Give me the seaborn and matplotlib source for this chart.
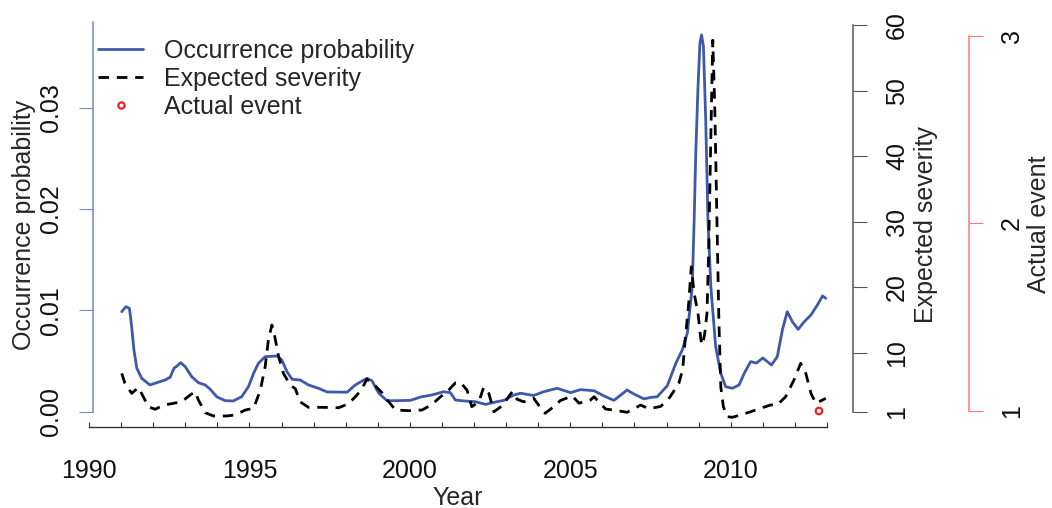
import numpy as np
import matplotlib
matplotlib.use("Agg")
import matplotlib.pyplot as plt
from matplotlib.lines import Line2D
import seaborn as sns

# ---- data ---------------------------------------------------------------
prob_year = [
    1991.02, 1991.15, 1991.26, 1991.33, 1991.40, 1991.49, 1991.64, 1991.90,
    1992.11, 1992.37, 1992.53, 1992.65, 1992.74, 1992.86, 1993.00, 1993.20,
    1993.41, 1993.62, 1993.78, 1993.98, 1994.24, 1994.50, 1994.76, 1994.97,
    1995.13, 1995.28, 1995.49, 1995.86, 1996.01, 1996.17, 1996.33, 1996.58,
    1996.84, 1997.15, 1997.42, 1998.04, 1998.30, 1998.66, 1998.82, 1999.03,
    1999.29, 1999.65, 2000.02, 2000.33, 2000.69, 2001.05, 2001.26, 2001.42,
    2001.73, 2002.04, 2002.36, 2002.67, 2002.93, 2003.24, 2003.45, 2003.86,
    2004.17, 2004.59, 2005.01, 2005.32, 2005.74, 2006.05, 2006.36, 2006.77,
    2006.98, 2007.29, 2007.50, 2007.71, 2008.02, 2008.29, 2008.49, 2008.65,
    2008.80, 2008.86, 2008.91, 2008.98, 2009.04, 2009.09, 2009.15, 2009.22,
    2009.29, 2009.38, 2009.53, 2009.69, 2009.84, 2010.05, 2010.26, 2010.42,
    2010.62, 2010.80, 2011.00, 2011.27, 2011.45, 2011.61, 2011.76, 2011.92,
    2012.10, 2012.29, 2012.50, 2012.70, 2012.86, 2012.96,
]
prob = [
    0.00987, 0.01037, 0.01020, 0.00840, 0.00610, 0.00430, 0.00330, 0.00264,
    0.00286, 0.00313, 0.00340, 0.00430, 0.00450, 0.00484, 0.00444, 0.00346,
    0.00286, 0.00264, 0.00221, 0.00148, 0.00109, 0.00106, 0.00148, 0.00247,
    0.00379, 0.00478, 0.00543, 0.00550, 0.00510, 0.00395, 0.00320, 0.00313,
    0.00264, 0.00231, 0.00195, 0.00192, 0.00264, 0.00330, 0.00305, 0.00182,
    0.00108, 0.00109, 0.00112, 0.00145, 0.00165, 0.00197, 0.00188, 0.00115,
    0.00105, 0.00099, 0.00072, 0.00096, 0.00112, 0.00165, 0.00182, 0.00160,
    0.00197, 0.00231, 0.00188, 0.00218, 0.00207, 0.00155, 0.00112, 0.00214,
    0.00175, 0.00127, 0.00140, 0.00148, 0.00255, 0.00478, 0.00610, 0.00780,
    0.01234, 0.01892, 0.02551, 0.03208, 0.03637, 0.03719, 0.03603, 0.02880,
    0.01892, 0.01234, 0.00642, 0.00379, 0.00247, 0.00231, 0.00264, 0.00379,
    0.00494, 0.00480, 0.00530, 0.00461, 0.00543, 0.00807, 0.00987, 0.00888,
    0.00813, 0.00888, 0.00955, 0.01053, 0.01142, 0.01120,
]

sev_year = [
    1991.02, 1991.12, 1991.33, 1991.54, 1991.69, 1991.85, 1992.06, 1992.32,
    1992.63, 1992.89, 1993.15, 1993.31, 1993.41, 1993.62, 1993.88, 1994.29,
    1994.55, 1994.87, 1995.13, 1995.34, 1995.49, 1995.59, 1995.70, 1995.77,
    1995.91, 1996.06, 1996.27, 1996.43, 1996.58, 1996.84, 1997.26, 1997.78,
    1998.09, 1998.35, 1998.51, 1998.66, 1998.87, 1999.13, 1999.34, 1999.55,
    1999.96, 2000.38, 2000.69, 2000.90, 2001.21, 2001.42, 2001.57, 2001.78,
    2001.93, 2002.15, 2002.30, 2002.46, 2002.62, 2002.88, 2003.19, 2003.34,
    2003.55, 2003.86, 2004.12, 2004.22, 2004.54, 2004.69, 2005.06, 2005.27,
    2005.63, 2005.74, 2006.10, 2006.41, 2006.77, 2007.19, 2007.45, 2007.82,
    2008.10, 2008.38, 2008.50, 2008.58, 2008.69, 2008.77, 2008.86, 2008.98,
    2009.07, 2009.12, 2009.19, 2009.26, 2009.31, 2009.35, 2009.40, 2009.44,
    2009.50, 2009.57, 2009.63, 2009.69, 2009.77, 2009.89, 2010.05, 2010.31,
    2010.62, 2010.93, 2011.24, 2011.45, 2011.71, 2011.97, 2012.18, 2012.34,
    2012.50, 2012.65, 2012.86, 2012.96,
]
severity = [
    6.85, 5.33, 3.80, 4.70, 3.30, 1.76, 1.36, 2.00,
    2.27, 2.52, 3.54, 4.05, 2.78, 0.84, 0.34, 0.34,
    0.49, 1.25, 1.51, 4.30, 7.86, 11.94, 14.23, 12.96,
    9.39, 6.85, 5.07, 4.50, 2.50, 1.66, 1.66, 1.60,
    2.20, 3.54, 4.56, 5.94, 5.20, 3.90, 2.52, 1.25,
    1.15, 1.25, 2.10, 3.04, 4.30, 5.40, 5.50, 4.30,
    1.76, 2.52, 4.72, 3.80, 0.99, 1.90, 4.05, 2.90,
    2.50, 3.04, 1.25, 0.75, 2.00, 2.70, 3.40, 2.30,
    2.78, 3.28, 1.40, 1.20, 0.90, 2.00, 1.45, 1.80,
    3.20, 5.30, 7.40, 11.94, 17.54, 23.13, 19.07, 16.02,
    11.94, 11.18, 12.96, 16.02, 25.18, 35.34, 48.08, 57.74,
    48.08, 30.26, 14.99, 4.81, 1.76, 0.23, 0.14, 0.49,
    0.99, 1.51, 2.02, 2.02, 3.28, 5.83, 8.38, 6.85,
    3.80, 2.27, 2.78, 3.04,
]

event_year = [2012.75]
event_value = [1]

year_ticks = list(range(1990, 2014))
year_labels = [str(y) if y % 5 == 0 else "" for y in year_ticks]
prob_ticks = [0.00, 0.01, 0.02, 0.03]
prob_labels = ["0.00", "0.01", "0.02", "0.03"]
sev_ticks = [1, 10, 20, 30, 40, 50, 60]
event_ticks = [1, 2, 3]

# ---- styling ------------------------------------------------------------
sns.set_style("white")
plt.rcParams["font.family"] = ["Liberation Sans", "DejaVu Sans"]
plt.rcParams["font.size"] = 18

BLUE = "#3f58aa"
BLUE_AXIS = "#7486cc"
RED = "#ee2222"
RED_AXIS = "#f27a7a"
GREY_AXIS = "#555555"

W, H = 1052, 508
fig = plt.figure(figsize=(W / 100, H / 100), dpi=100)
x0, x1, y_bot, y_top = 89, 827, 427, 22
ax = fig.add_axes([x0 / W, (H - y_bot) / H, (x1 - x0) / W, (y_bot - y_top) / H])
ax.patch.set_alpha(0)

ax2 = ax.twinx()
ax3 = ax.twinx()

# occurrence probability (left axis)
sns.lineplot(x=prob_year, y=prob, ax=ax, color=BLUE, linewidth=2.0,
             estimator=None, sort=True)
# expected severity (first right axis)
sns.lineplot(x=sev_year, y=severity, ax=ax2, color="black", linewidth=2.0,
             estimator=None, sort=True, linestyle=(0, (3.8, 2.8)))
# actual events (second right axis)
sns.scatterplot(x=event_year, y=event_value, ax=ax3, s=22, marker="o",
                facecolors="none", edgecolors=RED, linewidths=1.6)

ax.set_xlim(1990, 2013)
ax.set_ylim(-0.00151, 0.03846)
ax2.set_ylim(-1.344, 60.52)
ax3.set_ylim(0.9148, 3.073)

# spines
for a in (ax, ax2, ax3):
    for s in a.spines.values():
        s.set_visible(False)
    a.grid(False)

ax.spines["bottom"].set_visible(True)
ax.spines["bottom"].set_color("#333333")
ax.spines["bottom"].set_linewidth(1.0)

ax.spines["left"].set_visible(True)
ax.spines["left"].set_color(BLUE_AXIS)
ax.spines["left"].set_linewidth(1.1)
ax.spines["left"].set_position(("axes", 4.3 / (x1 - x0)))
ax.spines["left"].set_bounds(0, 0.03846)

ax2.spines["right"].set_visible(True)
ax2.spines["right"].set_color(GREY_AXIS)
ax2.spines["right"].set_linewidth(1.1)
ax2.spines["right"].set_position(("axes", (853 - x0) / (x1 - x0)))
ax2.spines["right"].set_bounds(1, 60)

ax3.spines["right"].set_visible(True)
ax3.spines["right"].set_color(RED_AXIS)
ax3.spines["right"].set_linewidth(1.1)
ax3.spines["right"].set_position(("axes", (969 - x0) / (x1 - x0)))
ax3.spines["right"].set_bounds(1, 3)

# x axis
ax.set_xticks(year_ticks)
ax.set_xticklabels(year_labels)
ax.tick_params(axis="x", direction="in", length=3.6, width=0.8,
               color="#333333", pad=23, labelsize=18, labelcolor="#111111",
               bottom=True, top=False)
ax.set_xlabel("Year", fontsize=18)
ax.xaxis.set_label_coords(0.5, (y_bot - 486) / (y_bot - y_top))

# left y axis
ax.set_yticks(prob_ticks)
ax.set_yticklabels(prob_labels, rotation=90, va="center")
ax.tick_params(axis="y", direction="out", length=10, width=0.8,
               color=BLUE_AXIS, pad=12, labelsize=18, labelcolor="#111111",
               left=True, right=False)
ax.set_ylabel("Occurrence probability", fontsize=18)
ax.yaxis.set_label_coords((36 - x0) / (x1 - x0), 0.5)

# severity axis
ax2.set_yticks(sev_ticks)
ax2.set_yticklabels([str(t) for t in sev_ticks], rotation=90, va="center")
ax2.tick_params(axis="y", direction="out", length=10, width=0.8,
                color=GREY_AXIS, pad=13, labelsize=18, labelcolor="#111111",
                right=True, left=False)
ax2.set_ylabel("Expected severity", fontsize=18)
ax2.yaxis.set_label_position("right")
ax2.yaxis.set_label_coords((914 - x0) / (x1 - x0), 0.5)

# actual event axis
ax3.set_yticks(event_ticks)
ax3.set_yticklabels([str(t) for t in event_ticks], rotation=90, va="center")
ax3.tick_params(axis="y", direction="out", length=10, width=0.8,
                color=RED_AXIS, pad=12.5, labelsize=18, labelcolor="#111111",
                right=True, left=False)
ax3.set_ylabel("Actual event", fontsize=18)
ax3.yaxis.set_label_position("right")
ax3.yaxis.set_label_coords((1027 - x0) / (x1 - x0), 0.5)

# legend
handles = [
    Line2D([], [], color=BLUE, linewidth=2.0),
    Line2D([], [], color="black", linewidth=2.0, linestyle=(0, (3.8, 2.8))),
    Line2D([], [], color=RED, marker="o", linestyle="none", markersize=4.5,
           markerfacecolor="none", markeredgewidth=1.6),
]
labels = ["Occurrence probability", "Expected severity", "Actual event"]
ax3.legend(handles, labels, loc="upper left",
           bbox_to_anchor=(98 / W, (H - 39) / H), bbox_transform=fig.transFigure,
           frameon=False, borderpad=0, borderaxespad=0, handlelength=1.8,
           handletextpad=0.85, labelspacing=0.16, fontsize=18)

fig.savefig("out.png", dpi=100)
